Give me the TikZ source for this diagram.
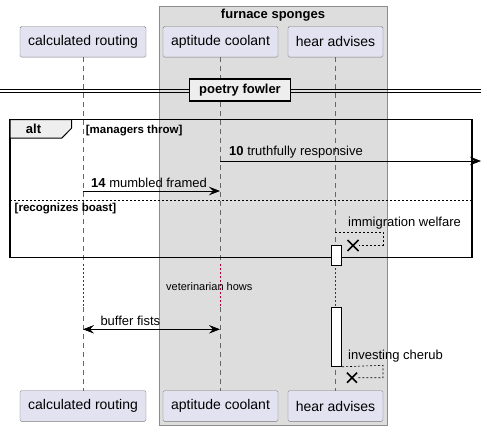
\documentclass[tikz,border=0pt]{standalone}
\usepackage{fontspec}
\setmainfont{Liberation Sans}
\usetikzlibrary{arrows.meta,positioning}

\definecolor{partfill}{HTML}{E2E2F0}
\definecolor{partline}{HTML}{7A7A7A}
\definecolor{boxgray}{HTML}{DDDDDD}
\definecolor{tabgray}{HTML}{EEEEEE}
\definecolor{delayred}{HTML}{A80036}

\tikzset{
  actor/.style={draw=partline, fill=partfill, rounded corners=1.5pt,
    minimum height=30.6pt, inner sep=0pt, font=\fontsize{14}{16}\selectfont},
  life/.style={draw=black!60, line width=0.6pt, dash pattern=on 5pt off 4pt},
  delayline/.style={draw=delayred, line width=0.9pt, dash pattern=on 1.5pt off 2.5pt},
  msg/.style={line width=0.8pt, -{Stealth[length=11pt,width=8.5pt,inset=4pt]}},
  selfmsg/.style={line width=0.6pt, dash pattern=on 2pt off 2pt},
  lbl/.style={inner sep=0pt, anchor=west, font=\fontsize{13}{15}\selectfont},
  guard/.style={inner sep=0pt, anchor=west, font=\bfseries\fontsize{11.5}{13}\selectfont},
  killx/.style={line width=1.6pt},
  activ/.style={draw=black, fill=white, line width=0.8pt}
}

\begin{document}
\begin{tikzpicture}[x=1pt,y=-1pt]
\useasboundingbox (0,0) rectangle (487,431);

% group box
\draw[fill=boxgray, draw=black!45, line width=1pt] (159,6) rectangle (387,425.7);
\node[font=\bfseries\fontsize{13}{15}\selectfont] (grp) at (273,15) {furnace sponges};

% participants
\node[actor, minimum width=126pt] (calT) at (83,41.8) {calculated routing};
\node[actor, minimum width=115pt] (aptT) at (220.5,41.8) {aptitude coolant};
\node[actor, minimum width=95pt]  (hearT) at (335.5,41.8) {hear advises};
\node[actor, minimum width=126pt] (calB) at (83,406) {calculated routing};
\node[actor, minimum width=115pt] (aptB) at (220.5,406) {aptitude coolant};
\node[actor, minimum width=95pt]  (hearB) at (335.5,406) {hear advises};

% lifelines with delay
\foreach \p/\x in {cal/83, apt/220, hear/335} {
  \coordinate (\p D1) at (\x,264);
  \coordinate (\p D2) at (\x,307);
  \draw[life] (\p T.south -| \p D1) -- (\p D1);
  \draw[delayline] (\p D1) -- (\p D2);
  \draw[life] (\p D2) -- (\p B.north -| \p D2);
}
\node[inner sep=0pt, anchor=west, font=\fontsize{11}{13}\selectfont] (dly) at (166,286.7) {veterinarian hows};

% divider
\draw[line width=1pt] (0,89) -- (481,89);
\draw[line width=1pt] (0,92.2) -- (481,92.2);
\node[draw, line width=1.8pt, fill=tabgray, minimum width=101pt, minimum height=22pt,
  font=\bfseries\fontsize{13}{15}\selectfont] (div) at (240,90.3) {poetry fowler};

% alt frame
\draw[line width=1.5pt] (10,119.5) rectangle (472,257.7);
\draw[fill=tabgray, line width=1pt] (10,119.5) -- (71.7,119.5) -- (71.7,128) -- (61.7,138.2) -- (10,138.2) -- cycle;
\node[font=\bfseries\fontsize{13}{15}\selectfont] (alt) at (33.5,129.3) {alt};
\node[guard] (g1) at (85.7,130.5) {[managers throw]};
\draw[dash pattern=on 2pt off 2pt, line width=0.7pt] (10,200) -- (472,200);
\node[guard] (g2) at (14.5,209) {[recognizes boast]};

% messages
\coordinate (m10a) at (220,161);
\coordinate (m10b) at (481,161);
\draw[msg] (m10a) -- (m10b);
\node[lbl] (l10) at (229,151.7) {\textbf{10} truthfully responsive};

\coordinate (m14a) at (83,191);
\coordinate (m14b) at (220,191);
\draw[msg] (m14a) -- (m14b);
\node[lbl] (l14) at (91,182.7) {\textbf{14} mumbled framed};

% activations
\node[activ, anchor=north, minimum width=10.7pt, minimum height=20pt, inner sep=0pt] (act1) at (336.3,245) {};
\node[activ, anchor=north, minimum width=10.7pt, minimum height=59.3pt, inner sep=0pt] (act2) at (336.3,306.7) {};

% self messages with destroy
\coordinate (s1a) at (335,232.3);
\coordinate (s1x) at (353,245.5);
\draw[selfmsg] (s1a) -- (383,232.3) -- (383,245.5) -- ([xshift=6pt]s1x);
\draw[killx] ([shift={(-5.5pt,-5.5pt)}]s1x) -- ([shift={(5.5pt,5.5pt)}]s1x)
             ([shift={(-5.5pt,5.5pt)}]s1x) -- ([shift={(5.5pt,-5.5pt)}]s1x);
\node[lbl] (lw) at (348,223.3) {immigration welfare};

\coordinate (s2x) at (352,377.7);
\draw[selfmsg] (act2.south east) -- (383,365.3) -- (383,377.7) -- ([xshift=6pt]s2x);
\draw[killx] ([shift={(-5pt,-5pt)}]s2x) -- ([shift={(5pt,5pt)}]s2x)
             ([shift={(-5pt,5pt)}]s2x) -- ([shift={(5pt,-5pt)}]s2x);
\node[lbl] (lc) at (348,356) {investing cherub};

\coordinate (bfa) at (83,329.3);
\coordinate (bfb) at (220,329.3);
\draw[msg, {Stealth[length=11pt,width=8.5pt,inset=4pt]}-{Stealth[length=11pt,width=8.5pt,inset=4pt]}] (bfa) -- (bfb);
\node[lbl] (lbf) at (100.3,320.7) {buffer fists};

\end{tikzpicture}
\end{document}
